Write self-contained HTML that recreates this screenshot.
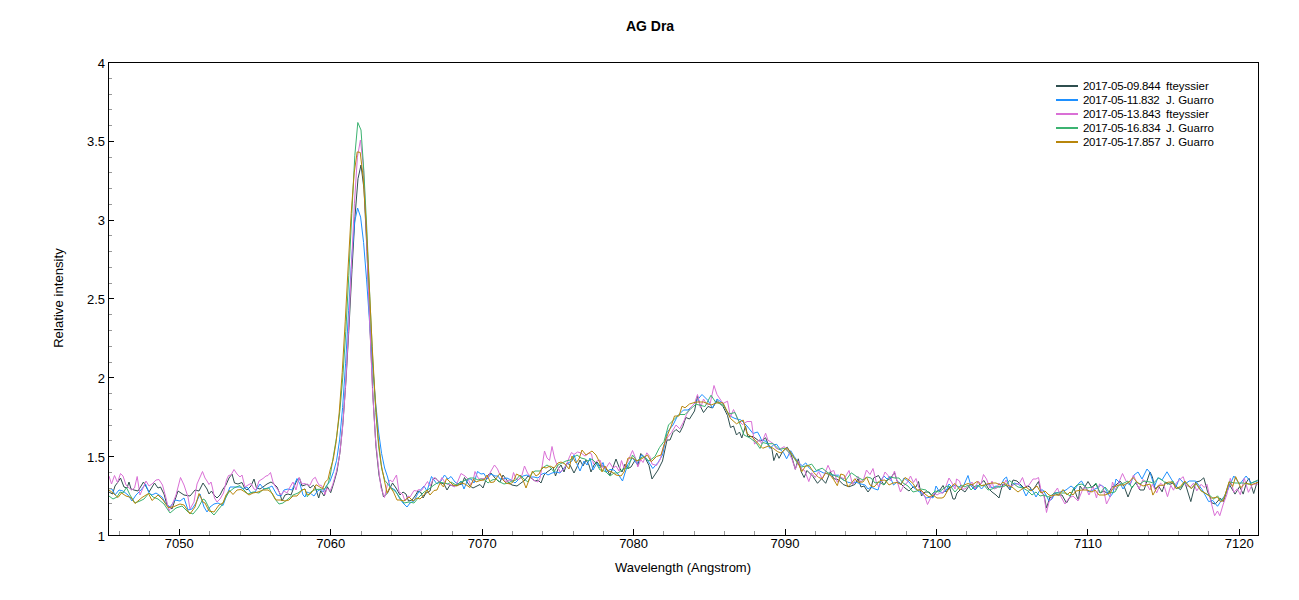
<!DOCTYPE html>
<html><head><meta charset="utf-8"><style>
html,body{margin:0;padding:0;background:#fff;}
svg{display:block;}
text{font-family:"Liberation Sans",sans-serif;fill:#000;}
.ax{font-size:13px;}
.lg{font-size:11.5px;}
.title{font-size:14px;font-weight:bold;}
</style></head><body>
<svg width="1299" height="600" viewBox="0 0 1299 600">
<rect width="1299" height="600" fill="#fff"/>
<g clip-path="url(#c)"><polyline points="109.0,492.0 112.5,494.0 115.0,486.0 118.0,482.0 120.5,478.0 124.0,487.0 127.0,488.0 129.0,482.0 131.0,489.0 134.0,490.0 138.0,491.0 143.5,482.0 149.0,492.0 154.5,483.0 158.0,488.0 160.5,487.0 164.0,494.0 167.0,505.0 172.0,509.0 178.0,491.0 184.0,495.0 190.0,496.0 195.0,490.0 199.0,491.0 203.0,483.0 205.0,486.0 207.0,489.0 209.0,494.0 211.5,491.0 214.0,495.0 217.0,498.0 220.0,495.0 223.0,489.0 226.0,485.0 229.0,478.0 232.0,474.0 234.5,483.0 238.0,484.0 242.0,482.5 244.5,488.0 247.0,490.0 251.0,486.0 254.0,479.0 256.5,488.0 260.0,489.0 263.0,487.0 267.0,484.0 271.0,482.0 274.0,484.0 277.0,487.0 280.0,494.0 282.0,501.0 285.0,495.0 288.0,494.0 291.0,495.0 294.0,487.0 297.0,480.0 299.5,478.0 302.0,486.0 305.0,485.0 307.3,484.0 310.0,488.0 313.3,485.3 315.3,487.3 318.7,498.0 320.7,490.7 324.0,496.0 327.3,486.7 330.7,492.7 334.0,482.2 337.0,471.3 340.0,452.2 343.0,422.2 346.0,380.0 349.0,327.1 352.0,269.5 355.0,216.4 358.0,178.7 361.0,165.0 364.0,189.2 367.0,251.6 370.0,328.8 373.0,397.9 376.0,446.8 379.0,475.2 383.5,497.0 387.5,493.0 392.5,483.0 396.0,488.0 400.0,495.0 403.0,492.0 406.0,494.0 408.5,501.0 412.0,500.0 415.0,496.0 418.0,491.0 421.0,492.5 423.0,498.0 426.0,493.0 430.0,491.0 433.0,479.0 435.5,478.0 438.0,481.0 441.0,483.0 444.0,484.0 447.0,490.0 450.0,485.0 454.0,486.0 458.0,485.0 462.0,484.0 464.5,477.5 467.0,482.0 470.0,486.0 473.0,488.0 477.0,486.0 480.0,484.5 483.0,488.0 485.5,481.0 488.0,475.0 491.0,473.0 495.0,478.0 498.0,481.0 500.0,482.0 503.0,475.0 506.0,479.0 509.0,483.0 512.0,485.0 517.0,486.0 521.0,483.0 525.0,480.0 528.0,476.0 531.0,478.0 535.0,481.0 538.0,480.0 541.0,483.0 544.0,475.0 547.0,472.0 550.0,470.0 553.0,467.0 555.5,476.0 558.0,469.0 561.0,465.0 564.0,472.0 567.0,463.0 570.0,465.0 574.0,473.0 577.0,467.0 580.0,460.0 583.0,466.0 586.0,460.0 589.0,465.0 591.0,472.0 594.0,465.0 597.0,462.0 600.0,466.0 604.0,466.0 607.0,470.0 610.0,475.0 613.5,466.0 616.0,459.0 619.0,467.0 622.0,472.0 625.0,464.0 628.0,468.5 631.0,467.0 635.5,459.5 637.8,465.5 640.8,453.5 645.2,458.0 649.0,465.5 652.0,479.0 658.0,470.0 662.5,461.0 667.0,440.0 670.0,440.0 673.0,432.5 676.0,429.5 679.8,432.5 682.8,426.5 685.8,417.5 689.5,419.0 694.5,411.0 697.5,396.0 700.5,406.5 703.5,412.5 708.0,406.5 712.5,408.0 717.0,400.5 723.0,406.5 727.5,415.5 730.5,427.5 733.5,426.0 736.5,435.0 739.5,432.0 741.8,438.0 745.5,426.0 747.8,436.5 753.0,436.5 759.0,441.0 762.7,440.2 765.6,437.8 768.5,444.8 772.0,449.5 773.8,460.6 776.7,453.0 779.0,458.3 782.5,451.8 787.2,447.2 790.7,453.0 795.3,469.3 798.3,458.8 801.2,471.7 804.1,477.5 807.0,470.5 812.8,476.3 817.5,483.3 821.6,478.7 825.7,483.3 830.3,471.7 833.8,478.7 838.5,479.8 843.2,484.5 849.0,486.8 854.8,484.5 858.0,478.7 861.0,487.0 864.0,486.0 868.0,492.0 871.0,488.0 873.5,478.0 878.5,475.5 881.5,481.0 884.0,485.0 887.0,480.0 890.0,479.0 894.5,472.5 897.0,481.0 901.0,484.0 905.0,488.0 909.0,491.0 913.0,487.0 916.0,487.0 918.5,481.5 921.5,496.0 925.0,492.0 929.0,492.0 933.0,497.0 937.0,491.0 940.0,490.0 943.0,485.5 946.0,492.0 949.5,487.0 953.0,499.0 955.0,499.0 957.0,493.0 961.0,489.0 965.0,492.0 969.0,486.0 972.0,484.0 975.0,490.0 979.0,485.0 984.0,480.5 988.0,488.0 992.0,492.0 996.0,495.0 999.0,498.0 1001.0,490.0 1003.0,484.0 1007.0,486.0 1010.0,490.0 1013.0,480.0 1017.0,481.0 1020.0,484.0 1024.0,488.0 1027.0,486.0 1030.0,487.0 1032.0,491.0 1035.0,487.0 1038.5,481.5 1041.0,492.0 1044.0,495.0 1046.5,508.0 1050.0,497.0 1052.0,498.0 1054.0,493.0 1058.0,495.0 1062.0,495.0 1066.5,503.0 1070.0,497.0 1074.0,488.0 1077.0,497.0 1078.5,500.0 1080.0,486.0 1083.0,490.0 1088.0,481.5 1092.0,488.0 1096.0,484.0 1100.0,493.0 1104.0,491.0 1108.0,494.0 1112.0,487.0 1116.0,485.0 1120.0,481.0 1124.0,486.0 1128.0,497.0 1132.0,487.0 1136.0,483.0 1140.0,490.0 1144.0,490.0 1148.0,478.0 1150.0,472.0 1152.3,476.7 1155.0,488.6 1158.8,486.4 1162.1,491.8 1165.3,482.1 1169.7,484.3 1172.9,483.2 1176.2,486.4 1180.5,489.7 1184.8,482.1 1190.8,501.6 1195.7,482.1 1200.0,481.0 1203.8,477.8 1207.6,491.8 1210.0,496.8 1211.7,502.8 1215.2,504.0 1220.4,498.2 1223.3,501.7 1229.2,484.2 1235.0,494.1 1239.7,486.5 1243.2,494.1 1246.7,481.8 1249.0,478.3 1253.7,493.5 1257.2,481.8" fill="none" stroke="#2f4f4f" stroke-width="1" stroke-linejoin="round"/><polyline points="109.0,488.5 112.0,489.0 115.0,495.0 119.0,490.0 123.0,491.0 128.0,495.0 132.0,501.0 136.0,495.0 141.0,490.0 145.5,484.0 149.0,493.0 152.0,495.0 156.0,493.0 162.0,497.0 166.0,504.0 170.0,507.0 175.0,500.0 180.0,501.0 184.0,498.0 188.0,510.0 192.0,509.0 196.0,503.0 200.0,494.0 204.0,507.0 207.0,512.0 210.0,507.0 214.0,504.0 218.0,503.0 223.0,505.5 226.0,497.0 230.0,487.0 235.0,487.0 240.0,487.0 243.0,489.0 247.0,487.0 251.0,493.0 255.0,492.0 260.0,484.0 264.0,489.0 268.0,488.0 272.0,486.0 277.0,495.0 281.0,496.0 284.0,490.0 288.0,489.0 292.0,490.0 297.0,478.5 300.0,484.0 303.0,495.0 305.0,497.0 306.7,492.0 308.7,492.7 311.3,494.0 314.0,496.0 317.3,491.3 320.7,489.3 323.3,492.0 326.7,485.3 330.0,481.3 333.6,471.6 336.6,460.3 339.6,439.9 342.6,407.6 345.6,363.2 348.6,310.8 351.6,259.7 354.6,222.0 357.6,208.0 360.6,217.1 363.6,242.6 366.6,279.9 369.6,322.8 372.6,365.1 375.6,402.4 378.6,432.0 381.6,453.5 384.6,468.0 387.6,477.0 390.0,487.0 395.0,490.0 400.0,499.0 403.0,503.0 407.0,507.0 410.0,503.0 414.0,501.0 418.0,493.0 424.0,486.0 427.0,491.0 429.5,483.0 431.5,476.5 434.0,480.0 437.0,484.0 441.0,481.0 444.5,475.0 448.0,479.0 451.0,476.5 455.0,482.0 458.0,484.0 461.0,481.0 464.0,489.0 468.0,479.0 471.0,479.0 474.0,483.0 477.5,471.5 481.0,474.0 484.0,473.5 487.0,479.0 491.0,474.0 495.0,476.0 498.0,476.0 500.0,479.0 503.0,479.0 507.0,478.0 511.0,480.0 515.0,483.0 519.0,479.0 523.0,476.0 527.0,475.0 531.0,477.0 534.0,477.0 538.0,478.0 542.0,474.0 545.0,473.0 548.0,475.0 552.0,473.0 556.0,472.0 560.0,473.0 564.0,468.0 568.0,463.0 572.0,461.0 574.0,455.0 577.0,464.0 580.0,471.0 584.0,461.0 587.0,465.0 590.0,458.0 593.0,470.0 597.0,463.0 600.0,468.0 603.0,462.5 606.0,472.0 610.0,469.5 614.0,470.0 618.0,474.0 622.5,481.0 625.0,473.0 628.0,464.0 632.5,458.0 637.0,464.0 641.5,455.0 646.0,458.0 652.8,468.5 658.0,462.5 662.5,455.0 667.0,432.5 673.0,425.0 677.5,416.0 683.5,410.0 688.0,410.0 694.0,404.0 702.0,394.5 708.0,400.5 712.5,408.0 717.0,399.0 723.0,403.5 729.0,415.5 735.0,418.5 741.0,420.0 747.0,426.0 753.0,433.5 757.5,432.0 760.0,436.5 761.5,440.2 766.2,441.3 769.7,448.3 773.8,444.8 776.7,444.3 780.2,449.5 783.7,453.0 786.6,458.8 790.7,450.7 794.2,456.5 798.3,462.3 802.3,465.8 805.8,462.9 809.3,468.2 814.0,471.7 818.7,470.5 823.3,472.8 828.0,474.0 832.7,475.2 838.5,475.2 843.2,479.8 847.8,482.2 852.5,483.3 856.0,482.2 861.0,484.0 865.0,485.0 868.0,489.0 871.0,487.0 875.0,489.0 878.0,490.0 881.0,480.0 884.0,476.0 887.0,479.0 890.0,476.5 893.5,485.0 897.0,482.0 901.0,484.0 904.0,478.0 909.0,482.0 913.0,487.0 918.0,491.0 923.0,494.0 926.0,498.0 931.0,497.0 933.0,498.0 936.0,486.0 939.0,491.0 943.0,493.0 947.0,489.0 949.0,484.0 952.0,487.0 955.0,485.0 959.0,487.0 963.0,487.0 968.0,475.5 971.0,486.0 975.0,490.0 978.0,485.0 981.5,489.0 985.0,485.0 989.0,484.0 992.0,488.0 996.0,486.0 1000.0,487.0 1004.0,479.0 1006.5,477.0 1010.0,489.0 1014.0,483.0 1018.0,484.0 1022.0,487.0 1026.0,496.0 1030.0,489.0 1033.0,491.0 1036.0,497.0 1040.0,490.0 1043.0,490.0 1046.0,495.0 1049.0,501.0 1052.0,499.0 1055.0,493.0 1060.0,492.0 1066.0,490.0 1071.0,486.0 1075.0,489.0 1079.0,483.0 1081.5,481.0 1085.0,487.0 1089.0,492.0 1093.0,490.0 1097.0,488.0 1101.0,485.0 1105.0,488.0 1110.0,497.0 1113.0,493.0 1116.0,479.0 1120.0,483.0 1123.0,489.0 1127.0,483.0 1130.0,485.0 1134.0,475.0 1138.0,472.0 1142.0,479.0 1147.0,469.0 1150.0,472.5 1154.5,486.4 1157.8,477.8 1162.1,479.9 1167.0,471.8 1171.8,479.9 1176.2,486.4 1179.4,478.3 1184.8,484.3 1189.2,481.0 1195.7,481.0 1202.2,489.7 1208.7,501.6 1212.8,500.5 1217.5,506.3 1222.2,499.3 1226.8,492.3 1233.8,476.0 1239.7,484.2 1246.1,476.0 1251.3,483.0 1257.8,480.7" fill="none" stroke="#1e90ff" stroke-width="1" stroke-linejoin="round"/><polyline points="109.0,476.0 111.5,484.0 114.5,475.5 117.5,482.5 120.5,473.5 123.0,476.0 126.0,485.0 131.5,490.0 134.5,488.0 137.2,476.5 140.0,495.0 143.0,488.0 146.0,481.0 149.0,486.0 152.0,484.0 156.0,480.0 159.0,479.5 162.5,485.0 166.0,498.0 169.0,511.0 172.0,505.0 176.0,495.0 180.5,477.5 184.0,485.0 188.0,497.0 190.0,509.0 194.0,502.0 197.0,484.0 202.5,471.5 205.0,478.0 207.0,481.0 209.0,484.5 211.0,482.0 212.5,488.0 214.5,498.0 217.0,502.0 220.0,499.0 223.5,493.0 226.5,480.0 228.5,475.5 231.0,475.0 234.0,469.5 237.0,474.0 240.0,477.0 242.0,475.0 245.0,487.0 248.0,485.0 251.0,483.5 254.0,489.0 256.0,490.0 259.0,481.0 263.0,478.5 266.0,476.0 268.0,475.5 270.5,472.5 273.0,482.0 275.0,486.0 278.0,490.0 281.0,495.0 284.0,491.0 287.0,493.0 290.0,487.0 293.0,482.0 296.0,490.0 299.0,477.5 302.0,484.0 305.0,483.5 306.7,484.7 310.0,485.3 312.7,479.3 315.3,477.3 317.3,482.0 319.3,485.3 321.3,485.3 323.3,488.7 325.0,494.7 327.0,488.0 330.0,491.3 332.7,484.7 336.4,471.6 339.4,456.6 342.4,430.0 345.4,388.7 348.4,332.6 351.4,267.2 354.4,203.8 357.4,157.2 360.4,140.0 363.4,166.0 366.4,232.9 369.4,315.0 372.4,387.5 375.4,438.0 378.4,466.8 381.0,488.0 384.5,497.5 387.5,484.0 390.0,480.0 392.5,482.0 396.5,475.0 399.0,492.0 402.5,494.0 405.0,501.0 408.0,496.0 410.0,497.0 414.0,490.5 416.5,491.0 419.0,489.5 421.5,490.5 424.5,486.0 427.5,481.5 430.0,486.0 434.0,477.5 437.0,480.0 439.5,482.0 442.0,477.5 444.5,482.0 447.0,484.0 451.0,485.0 454.5,487.0 457.5,482.0 461.0,473.5 465.0,476.0 468.0,479.0 471.0,485.0 473.0,481.0 475.0,471.5 477.0,476.0 479.0,479.0 484.0,478.5 488.0,477.0 491.0,471.0 494.5,465.0 497.5,469.0 500.0,475.0 503.0,478.0 506.0,482.0 509.0,480.0 511.5,481.0 513.5,472.5 516.0,479.0 519.0,479.5 522.0,475.0 524.5,466.0 527.5,473.0 530.0,476.0 533.0,480.0 535.5,481.0 538.0,482.0 540.0,478.0 542.0,467.0 544.5,451.0 547.0,458.0 549.5,460.5 552.0,446.5 554.5,458.0 557.0,465.0 560.0,472.0 563.0,470.0 566.0,466.0 569.0,458.0 571.5,452.5 574.0,454.5 577.5,452.0 581.0,453.0 585.0,456.0 589.0,453.0 591.5,454.0 593.5,464.0 597.0,461.0 600.0,460.0 603.0,468.0 606.0,468.0 609.5,462.5 613.0,468.0 616.0,466.0 619.0,471.0 621.5,460.5 624.0,468.0 628.0,461.0 632.5,450.5 635.5,458.0 637.8,467.0 640.8,459.5 643.0,462.5 646.8,452.8 649.8,456.5 652.0,464.0 656.5,465.5 660.2,459.5 664.0,444.5 667.8,437.0 671.5,432.5 676.0,425.0 679.8,428.8 683.5,422.0 686.5,414.5 691.0,407.0 694.5,403.5 697.5,394.5 700.5,408.0 703.5,399.0 707.2,405.0 710.2,403.5 714.0,385.5 717.0,394.5 720.0,399.0 723.0,403.5 727.5,401.2 730.5,417.0 733.5,409.5 738.0,420.0 742.5,424.5 747.0,421.5 751.5,421.5 754.5,444.0 760.0,439.5 761.5,443.7 765.6,433.2 767.9,440.2 770.8,441.9 773.2,443.7 776.1,448.3 779.0,449.5 784.3,446.6 788.3,451.8 791.8,458.8 795.3,469.3 798.3,461.2 801.8,469.3 804.7,470.5 808.8,481.6 811.7,472.8 815.2,477.5 818.7,471.7 822.2,478.7 825.1,472.8 828.0,465.3 830.9,471.7 833.8,470.5 837.3,482.2 840.8,477.5 844.3,478.7 849.0,470.5 852.5,484.5 856.0,478.7 858.0,476.3 860.5,482.0 863.5,479.5 866.5,470.0 870.0,474.5 873.0,468.5 876.5,483.0 879.0,487.0 882.0,480.0 885.0,472.0 888.0,475.5 890.5,481.0 894.5,471.0 897.0,481.0 900.5,492.0 904.0,485.0 907.0,483.0 910.5,476.0 913.5,482.5 916.0,478.5 919.0,488.0 922.0,492.0 925.0,497.0 927.5,504.5 931.0,497.0 934.0,493.0 937.0,495.0 940.0,493.0 943.0,493.0 946.0,486.0 949.0,478.0 952.0,483.0 955.0,489.0 956.5,479.0 959.5,481.0 962.0,489.0 965.0,489.0 968.5,486.0 972.0,482.0 975.0,489.0 978.0,481.0 981.0,484.0 983.5,474.5 986.5,479.0 990.0,488.0 992.0,481.0 994.0,489.0 997.0,488.0 999.0,483.0 1002.0,488.0 1006.0,480.0 1009.5,487.0 1013.0,485.0 1016.0,484.0 1019.0,484.0 1022.5,477.5 1026.0,488.0 1029.0,485.0 1033.0,479.0 1036.0,479.0 1038.5,477.5 1041.0,490.0 1044.0,496.0 1046.5,512.5 1049.0,502.0 1052.0,497.0 1054.0,493.0 1057.5,488.0 1060.0,495.0 1065.0,504.0 1069.0,498.0 1073.0,496.0 1078.0,501.0 1082.0,491.0 1085.0,486.0 1089.0,495.0 1093.0,486.0 1096.5,498.0 1099.5,484.0 1103.0,487.0 1106.5,504.0 1110.0,497.0 1112.5,482.0 1115.5,490.0 1119.0,482.0 1122.5,473.5 1126.0,481.0 1130.0,484.0 1133.5,475.0 1137.0,484.0 1139.0,489.0 1143.0,479.5 1146.0,483.0 1150.0,490.0 1152.3,484.3 1156.7,492.9 1160.5,483.2 1164.3,486.4 1167.5,496.7 1170.8,485.3 1173.5,490.2 1176.2,483.2 1179.4,479.9 1183.2,476.7 1185.9,485.3 1190.3,487.0 1193.5,483.2 1196.8,490.8 1201.1,484.3 1204.3,487.5 1207.0,484.3 1210.0,498.0 1214.6,515.7 1217.5,511.0 1219.8,515.7 1223.3,504.0 1226.8,494.7 1230.3,478.3 1233.8,492.3 1237.3,488.8 1240.3,494.7 1244.3,478.3 1248.4,492.3 1252.5,484.2 1257.8,484.2" fill="none" stroke="#da70d6" stroke-width="1" stroke-linejoin="round"/><polyline points="109.0,496.0 113.0,499.0 117.0,497.0 120.0,492.0 123.0,493.0 126.5,487.5 130.0,495.0 135.0,503.0 140.0,501.0 144.0,499.0 149.0,493.0 153.0,497.0 158.0,499.0 164.0,504.0 170.0,513.0 176.0,508.0 182.0,506.0 188.0,512.0 193.0,514.0 198.0,508.0 203.0,499.0 205.0,500.0 208.0,506.0 211.0,512.0 214.0,515.0 218.0,510.0 222.0,505.0 226.0,497.0 229.0,492.0 234.0,488.0 240.0,485.5 244.0,490.0 248.0,494.0 253.0,492.0 259.0,493.0 264.0,489.0 269.0,488.0 275.0,499.0 279.0,504.0 283.0,503.0 288.0,499.0 293.0,495.0 298.0,493.0 302.0,490.0 305.0,489.0 307.3,496.7 310.7,492.0 314.0,490.0 318.0,489.3 321.3,489.3 324.7,488.7 328.0,484.0 330.0,476.7 336.8,435.6 339.8,411.5 342.8,377.1 345.8,331.4 348.8,275.3 351.8,213.3 354.8,155.7 357.8,122.5 361.0,130.0 363.8,170.5 366.8,228.9 369.8,296.7 372.8,361.1 375.8,412.5 378.8,448.0 381.8,469.2 384.8,480.3 391.0,488.0 396.0,492.0 400.0,498.0 404.0,503.0 409.0,502.0 414.0,503.0 419.0,497.0 424.0,492.0 429.0,489.0 434.0,485.0 439.0,482.0 444.0,483.0 448.0,484.0 451.0,482.0 456.0,485.0 461.0,482.0 466.0,480.0 470.0,478.0 474.0,478.0 478.0,480.0 481.0,479.0 485.0,480.0 488.0,483.0 492.0,480.0 496.0,479.0 500.0,482.0 504.0,484.0 508.0,483.0 512.0,481.0 516.0,480.0 520.0,475.0 524.0,479.0 528.0,482.0 532.0,473.0 535.0,471.0 540.0,471.0 544.0,467.0 547.0,465.0 550.0,467.0 554.0,472.0 558.0,465.0 562.0,463.0 566.0,461.0 570.0,460.0 574.0,457.0 577.0,455.0 581.0,458.0 585.0,459.0 588.0,461.0 592.0,459.0 596.0,463.0 600.0,470.0 602.0,470.0 606.0,472.0 610.0,476.0 614.0,473.0 618.0,473.0 622.0,470.0 626.0,468.0 628.0,468.5 632.5,455.0 637.0,461.0 643.0,456.5 649.0,461.0 655.0,456.5 659.5,447.5 664.0,441.5 668.5,425.0 673.0,420.5 679.0,414.5 685.0,414.5 691.0,408.5 696.0,404.2 705.0,406.5 711.0,395.2 715.5,402.0 723.0,405.0 729.0,414.0 735.0,412.5 739.5,423.0 744.0,435.0 750.0,438.0 756.0,442.5 760.0,448.5 762.7,442.5 767.3,443.7 773.2,443.7 779.0,449.5 784.8,448.3 788.3,451.8 793.0,456.5 797.7,463.5 801.2,467.0 807.0,465.8 811.7,464.1 816.3,470.5 822.2,468.2 828.0,472.8 833.8,475.2 839.7,477.5 845.2,481.0 851.3,472.8 858.0,477.5 863.0,480.0 867.0,477.0 871.0,478.0 875.0,483.0 879.0,482.0 884.0,485.0 890.0,477.0 895.0,478.0 899.0,478.0 903.0,483.0 908.0,486.0 913.0,492.0 917.0,491.0 921.0,489.0 926.0,490.0 931.0,495.0 935.0,491.0 939.0,492.0 943.0,489.0 947.0,486.0 951.0,487.0 955.0,492.0 961.0,485.0 965.0,487.0 968.0,485.0 971.0,490.0 975.0,486.0 980.0,486.0 984.0,485.0 988.0,490.0 992.0,489.0 996.0,487.0 1000.0,487.0 1005.0,486.0 1009.5,480.5 1014.0,484.0 1018.0,487.0 1023.0,488.0 1028.0,491.0 1032.0,495.0 1036.0,492.0 1040.0,496.0 1044.0,495.0 1048.0,497.0 1052.0,495.0 1054.0,493.0 1060.0,493.0 1066.0,493.0 1070.0,496.0 1074.0,488.0 1077.0,485.0 1082.0,484.0 1087.0,488.0 1092.0,487.0 1096.0,483.0 1100.0,493.0 1105.0,487.0 1110.0,493.0 1115.0,492.0 1119.0,485.0 1124.0,483.0 1128.0,481.0 1132.0,488.0 1136.0,482.0 1140.0,484.0 1144.0,481.0 1150.0,482.0 1153.4,483.2 1158.8,477.8 1163.2,481.0 1167.5,484.3 1172.9,481.0 1176.2,488.6 1180.5,487.5 1184.8,482.1 1191.3,488.6 1195.7,483.2 1201.1,490.8 1206.5,494.0 1210.0,495.6 1214.0,499.3 1217.5,495.8 1221.0,500.5 1224.5,497.0 1229.2,481.8 1235.0,483.0 1243.2,483.0 1249.0,484.2 1257.8,480.1" fill="none" stroke="#3cb371" stroke-width="1" stroke-linejoin="round"/><polyline points="109.0,490.0 113.0,493.0 118.0,497.5 121.5,493.0 126.0,496.0 131.0,497.5 135.0,503.5 142.0,497.5 148.5,493.5 152.0,500.5 158.0,495.0 163.0,500.0 168.0,507.5 173.0,507.0 180.0,504.0 184.0,505.0 190.0,514.0 195.0,507.0 199.0,493.5 203.0,502.0 205.0,503.0 209.0,511.0 214.0,512.0 219.0,505.0 223.0,503.0 226.0,495.0 229.5,490.5 233.0,494.5 237.0,490.0 241.0,489.5 245.0,492.0 249.0,495.0 253.0,493.0 258.0,492.0 263.0,490.0 268.0,490.0 272.0,493.0 276.0,500.0 281.0,500.0 285.0,501.0 289.0,500.0 293.0,496.0 297.0,496.0 302.0,490.0 305.0,489.0 306.7,494.0 309.3,494.7 312.7,491.3 316.0,484.7 319.3,486.7 322.7,488.7 325.3,482.0 328.0,479.3 330.2,469.7 333.2,459.6 336.2,441.5 339.2,412.9 342.2,372.5 345.2,321.9 348.2,266.1 351.2,213.4 354.2,172.9 357.2,151.9 360.2,152.4 363.2,177.4 366.2,224.9 369.2,285.1 372.2,346.4 375.2,399.1 378.2,438.5 381.2,464.4 384.2,479.6 387.0,493.0 390.0,487.0 393.5,492.0 397.0,500.0 400.0,500.0 404.0,501.0 409.0,497.0 413.0,501.0 417.0,498.0 420.0,499.0 424.0,495.0 427.0,490.0 430.0,495.0 434.0,490.5 437.0,490.0 440.0,483.0 443.5,487.0 446.5,478.5 450.0,482.0 453.0,485.0 457.0,486.0 461.0,483.0 465.0,484.0 470.0,487.5 473.5,479.0 476.0,482.0 480.0,480.5 484.0,480.0 487.0,475.0 490.5,482.5 494.0,482.0 497.5,476.5 500.0,473.5 503.0,480.0 506.0,483.0 510.0,484.0 513.0,482.0 516.5,474.0 520.0,476.0 523.0,480.0 526.0,488.0 529.0,480.0 532.5,471.0 536.0,476.0 539.0,474.0 542.5,467.0 546.0,468.0 550.0,466.0 554.0,468.0 558.0,463.0 561.0,462.0 565.0,464.0 569.0,469.0 572.0,456.0 576.0,463.0 579.0,459.0 582.0,450.0 586.0,455.0 592.0,451.0 596.0,455.0 600.0,463.0 602.0,472.0 605.0,466.0 608.0,471.0 612.0,472.0 616.0,475.0 621.0,476.0 624.0,472.0 628.0,458.0 632.5,458.0 637.0,461.0 643.0,458.0 647.5,455.0 651.2,461.8 656.5,456.5 661.0,455.0 665.5,440.0 671.5,425.0 674.5,416.0 679.0,416.0 682.0,406.2 685.0,407.8 689.5,404.0 696.0,402.0 703.5,402.0 711.0,405.0 717.0,402.8 723.0,402.8 730.5,418.5 736.5,423.8 743.2,420.0 747.0,433.5 753.0,438.0 760.0,445.5 762.7,448.3 768.5,446.0 773.2,448.3 777.8,451.8 781.3,453.0 786.0,447.8 789.5,450.7 794.2,457.7 797.7,462.3 801.8,471.7 805.8,465.8 809.3,465.8 814.0,472.8 818.7,477.5 822.2,478.7 825.7,472.8 830.3,475.2 833.8,479.8 837.3,485.7 840.8,474.0 844.3,475.2 847.8,486.8 851.3,483.3 854.8,478.7 858.0,482.2 863.0,482.0 866.5,477.0 870.0,485.0 874.0,487.0 880.0,480.5 885.0,480.0 889.0,485.0 893.0,483.0 897.0,482.5 901.0,484.5 905.0,477.5 909.0,480.0 913.0,483.5 917.0,490.0 921.0,490.0 925.0,494.0 929.0,497.0 933.0,495.0 937.0,498.0 942.0,498.0 944.0,497.0 948.0,490.0 953.0,485.0 955.0,483.5 960.0,490.0 964.0,485.0 968.0,483.5 972.0,485.0 977.0,481.5 982.0,486.0 987.0,484.0 992.0,483.0 996.0,483.0 1000.0,485.0 1003.0,482.0 1007.0,485.0 1012.0,487.0 1018.0,492.0 1022.0,489.0 1026.0,487.0 1031.0,491.0 1037.0,486.0 1041.0,493.0 1045.0,491.0 1049.0,495.0 1052.0,496.0 1055.0,495.0 1059.0,495.0 1063.0,489.5 1067.0,495.0 1070.0,492.0 1073.0,495.0 1076.0,491.0 1082.0,490.0 1087.0,490.0 1092.0,492.0 1095.0,490.0 1099.0,495.0 1105.0,495.0 1110.0,493.0 1114.0,487.0 1119.0,485.0 1124.0,485.0 1129.0,482.0 1133.0,477.5 1138.0,483.0 1143.0,486.0 1150.0,484.0 1152.9,495.1 1158.3,485.3 1163.2,485.3 1168.0,482.1 1172.4,482.1 1176.2,488.6 1180.5,486.4 1184.8,481.0 1191.3,488.6 1196.2,483.2 1201.1,490.8 1206.5,494.0 1211.7,498.2 1217.5,497.0 1220.4,501.7 1223.3,500.5 1229.2,481.8 1232.7,486.5 1235.6,476.6 1240.8,487.7 1245.5,483.0 1251.3,484.8 1257.8,482.4" fill="none" stroke="#b8860b" stroke-width="1" stroke-linejoin="round"/></g>
<defs><clipPath id="c"><rect x="109" y="63" width="1149" height="472"/></clipPath></defs>
<rect x="108.5" y="62.5" width="1150" height="473" fill="none" stroke="#000" stroke-width="1"/><line x1="109" y1="535.5" x2="114" y2="535.5" stroke="#000" stroke-width="1"/><line x1="109" y1="519.5" x2="112" y2="519.5" stroke="#999" stroke-width="1"/><line x1="109" y1="503.5" x2="112" y2="503.5" stroke="#999" stroke-width="1"/><line x1="109" y1="488.5" x2="112" y2="488.5" stroke="#999" stroke-width="1"/><line x1="109" y1="472.5" x2="112" y2="472.5" stroke="#999" stroke-width="1"/><line x1="109" y1="456.5" x2="114" y2="456.5" stroke="#000" stroke-width="1"/><line x1="109" y1="440.5" x2="112" y2="440.5" stroke="#999" stroke-width="1"/><line x1="109" y1="425.5" x2="112" y2="425.5" stroke="#999" stroke-width="1"/><line x1="109" y1="409.5" x2="112" y2="409.5" stroke="#999" stroke-width="1"/><line x1="109" y1="393.5" x2="112" y2="393.5" stroke="#999" stroke-width="1"/><line x1="109" y1="377.5" x2="114" y2="377.5" stroke="#000" stroke-width="1"/><line x1="109" y1="362.5" x2="112" y2="362.5" stroke="#999" stroke-width="1"/><line x1="109" y1="346.5" x2="112" y2="346.5" stroke="#999" stroke-width="1"/><line x1="109" y1="330.5" x2="112" y2="330.5" stroke="#999" stroke-width="1"/><line x1="109" y1="314.5" x2="112" y2="314.5" stroke="#999" stroke-width="1"/><line x1="109" y1="298.5" x2="114" y2="298.5" stroke="#000" stroke-width="1"/><line x1="109" y1="283.5" x2="112" y2="283.5" stroke="#999" stroke-width="1"/><line x1="109" y1="267.5" x2="112" y2="267.5" stroke="#999" stroke-width="1"/><line x1="109" y1="251.5" x2="112" y2="251.5" stroke="#999" stroke-width="1"/><line x1="109" y1="235.5" x2="112" y2="235.5" stroke="#999" stroke-width="1"/><line x1="109" y1="220.5" x2="114" y2="220.5" stroke="#000" stroke-width="1"/><line x1="109" y1="204.5" x2="112" y2="204.5" stroke="#999" stroke-width="1"/><line x1="109" y1="188.5" x2="112" y2="188.5" stroke="#999" stroke-width="1"/><line x1="109" y1="172.5" x2="112" y2="172.5" stroke="#999" stroke-width="1"/><line x1="109" y1="157.5" x2="112" y2="157.5" stroke="#999" stroke-width="1"/><line x1="109" y1="141.5" x2="114" y2="141.5" stroke="#000" stroke-width="1"/><line x1="109" y1="125.5" x2="112" y2="125.5" stroke="#999" stroke-width="1"/><line x1="109" y1="109.5" x2="112" y2="109.5" stroke="#999" stroke-width="1"/><line x1="109" y1="94.5" x2="112" y2="94.5" stroke="#999" stroke-width="1"/><line x1="109" y1="78.5" x2="112" y2="78.5" stroke="#999" stroke-width="1"/><line x1="109" y1="62.5" x2="114" y2="62.5" stroke="#000" stroke-width="1"/><line x1="119.5" y1="535" x2="119.5" y2="531" stroke="#999" stroke-width="1"/><line x1="149.5" y1="535" x2="149.5" y2="531" stroke="#999" stroke-width="1"/><line x1="179.5" y1="535" x2="179.5" y2="529" stroke="#000" stroke-width="1"/><line x1="209.5" y1="535" x2="209.5" y2="531" stroke="#999" stroke-width="1"/><line x1="240.5" y1="535" x2="240.5" y2="531" stroke="#999" stroke-width="1"/><line x1="270.5" y1="535" x2="270.5" y2="531" stroke="#999" stroke-width="1"/><line x1="300.5" y1="535" x2="300.5" y2="531" stroke="#999" stroke-width="1"/><line x1="330.5" y1="535" x2="330.5" y2="529" stroke="#000" stroke-width="1"/><line x1="361.5" y1="535" x2="361.5" y2="531" stroke="#999" stroke-width="1"/><line x1="391.5" y1="535" x2="391.5" y2="531" stroke="#999" stroke-width="1"/><line x1="421.5" y1="535" x2="421.5" y2="531" stroke="#999" stroke-width="1"/><line x1="452.5" y1="535" x2="452.5" y2="531" stroke="#999" stroke-width="1"/><line x1="482.5" y1="535" x2="482.5" y2="529" stroke="#000" stroke-width="1"/><line x1="512.5" y1="535" x2="512.5" y2="531" stroke="#999" stroke-width="1"/><line x1="542.5" y1="535" x2="542.5" y2="531" stroke="#999" stroke-width="1"/><line x1="573.5" y1="535" x2="573.5" y2="531" stroke="#999" stroke-width="1"/><line x1="603.5" y1="535" x2="603.5" y2="531" stroke="#999" stroke-width="1"/><line x1="633.5" y1="535" x2="633.5" y2="529" stroke="#000" stroke-width="1"/><line x1="663.5" y1="535" x2="663.5" y2="531" stroke="#999" stroke-width="1"/><line x1="694.5" y1="535" x2="694.5" y2="531" stroke="#999" stroke-width="1"/><line x1="724.5" y1="535" x2="724.5" y2="531" stroke="#999" stroke-width="1"/><line x1="754.5" y1="535" x2="754.5" y2="531" stroke="#999" stroke-width="1"/><line x1="785.5" y1="535" x2="785.5" y2="529" stroke="#000" stroke-width="1"/><line x1="815.5" y1="535" x2="815.5" y2="531" stroke="#999" stroke-width="1"/><line x1="845.5" y1="535" x2="845.5" y2="531" stroke="#999" stroke-width="1"/><line x1="875.5" y1="535" x2="875.5" y2="531" stroke="#999" stroke-width="1"/><line x1="906.5" y1="535" x2="906.5" y2="531" stroke="#999" stroke-width="1"/><line x1="936.5" y1="535" x2="936.5" y2="529" stroke="#000" stroke-width="1"/><line x1="966.5" y1="535" x2="966.5" y2="531" stroke="#999" stroke-width="1"/><line x1="996.5" y1="535" x2="996.5" y2="531" stroke="#999" stroke-width="1"/><line x1="1027.5" y1="535" x2="1027.5" y2="531" stroke="#999" stroke-width="1"/><line x1="1057.5" y1="535" x2="1057.5" y2="531" stroke="#999" stroke-width="1"/><line x1="1087.5" y1="535" x2="1087.5" y2="529" stroke="#000" stroke-width="1"/><line x1="1118.5" y1="535" x2="1118.5" y2="531" stroke="#999" stroke-width="1"/><line x1="1148.5" y1="535" x2="1148.5" y2="531" stroke="#999" stroke-width="1"/><line x1="1178.5" y1="535" x2="1178.5" y2="531" stroke="#999" stroke-width="1"/><line x1="1208.5" y1="535" x2="1208.5" y2="531" stroke="#999" stroke-width="1"/><line x1="1239.5" y1="535" x2="1239.5" y2="529" stroke="#000" stroke-width="1"/>
<text x="105" y="540.5" text-anchor="end" class="ax">1</text><text x="105" y="461.7" text-anchor="end" class="ax">1.5</text><text x="105" y="382.8" text-anchor="end" class="ax">2</text><text x="105" y="304.0" text-anchor="end" class="ax">2.5</text><text x="105" y="225.2" text-anchor="end" class="ax">3</text><text x="105" y="146.3" text-anchor="end" class="ax">3.5</text><text x="105" y="67.5" text-anchor="end" class="ax">4</text><text x="179.3" y="548" text-anchor="middle" class="ax">7050</text><text x="330.7" y="548" text-anchor="middle" class="ax">7060</text><text x="482.2" y="548" text-anchor="middle" class="ax">7070</text><text x="633.6" y="548" text-anchor="middle" class="ax">7080</text><text x="785.0" y="548" text-anchor="middle" class="ax">7090</text><text x="936.4" y="548" text-anchor="middle" class="ax">7100</text><text x="1087.9" y="548" text-anchor="middle" class="ax">7110</text><text x="1239.3" y="548" text-anchor="middle" class="ax">7120</text><text x="650" y="30.5" text-anchor="middle" class="title">AG Dra</text><text x="683" y="571.5" text-anchor="middle" class="ax">Wavelength (Angstrom)</text><text transform="translate(63,298) rotate(-90)" text-anchor="middle" class="ax" letter-spacing="0.08">Relative intensity</text>
<line x1="1056" y1="86" x2="1078" y2="86" stroke="#2f4f4f" stroke-width="2"/><text x="1083" y="90.2" class="lg" letter-spacing="-0.28">2017-05-09.844</text><text x="1166" y="90.2" class="lg">fteyssier</text><line x1="1056" y1="100" x2="1078" y2="100" stroke="#1e90ff" stroke-width="2"/><text x="1083" y="104.2" class="lg" letter-spacing="-0.28">2017-05-11.832</text><text x="1166" y="104.2" class="lg">J. Guarro</text><line x1="1056" y1="114" x2="1078" y2="114" stroke="#da70d6" stroke-width="2"/><text x="1083" y="118.2" class="lg" letter-spacing="-0.28">2017-05-13.843</text><text x="1166" y="118.2" class="lg">fteyssier</text><line x1="1056" y1="128" x2="1078" y2="128" stroke="#3cb371" stroke-width="2"/><text x="1083" y="132.2" class="lg" letter-spacing="-0.28">2017-05-16.834</text><text x="1166" y="132.2" class="lg">J. Guarro</text><line x1="1056" y1="142" x2="1078" y2="142" stroke="#b8860b" stroke-width="2"/><text x="1083" y="146.2" class="lg" letter-spacing="-0.28">2017-05-17.857</text><text x="1166" y="146.2" class="lg">J. Guarro</text>
</svg></body></html>
